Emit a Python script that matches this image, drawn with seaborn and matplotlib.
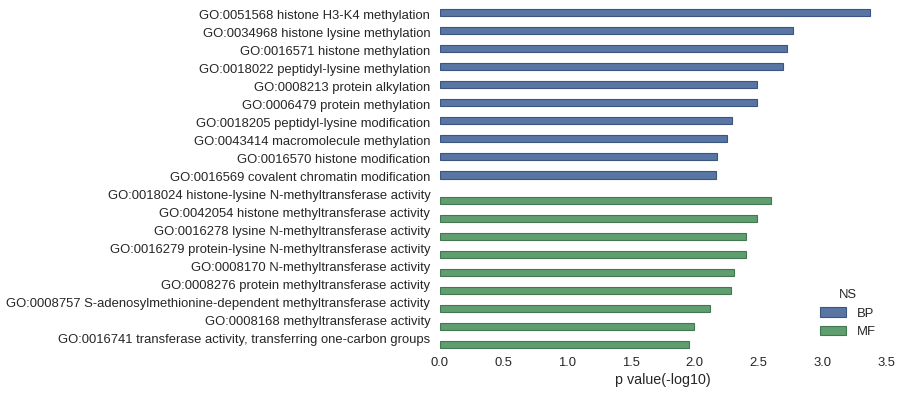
import matplotlib
matplotlib.use("Agg")
import matplotlib.pyplot as plt
from matplotlib.transforms import ScaledTranslation
import seaborn as sns
import pandas as pd

bp_terms = [
    "GO:0051568 histone H3-K4 methylation",
    "GO:0034968 histone lysine methylation",
    "GO:0016571 histone methylation",
    "GO:0018022 peptidyl-lysine methylation",
    "GO:0008213 protein alkylation",
    "GO:0006479 protein methylation",
    "GO:0018205 peptidyl-lysine modification",
    "GO:0043414 macromolecule methylation",
    "GO:0016570 histone modification",
    "GO:0016569 covalent chromatin modification",
]
bp_values = [3.375, 2.77, 2.72, 2.69, 2.49, 2.49, 2.29, 2.25, 2.17, 2.165]

mf_terms = [
    "GO:0018024 histone-lysine N-methyltransferase activity",
    "GO:0042054 histone methyltransferase activity",
    "GO:0016278 lysine N-methyltransferase activity",
    "GO:0016279 protein-lysine N-methyltransferase activity",
    "GO:0008170 N-methyltransferase activity",
    "GO:0008276 protein methyltransferase activity",
    "GO:0008757 S-adenosylmethionine-dependent methyltransferase activity",
    "GO:0008168 methyltransferase activity",
    "GO:0016741 transferase activity, transferring one-carbon groups",
]
mf_values = [2.60, 2.49, 2.40, 2.40, 2.305, 2.28, 2.12, 1.99, 1.955]

df = pd.DataFrame({
    "term": bp_terms + mf_terms,
    "value": bp_values + mf_values,
    "NS": ["BP"] * len(bp_terms) + ["MF"] * len(mf_terms),
})

sns.set_theme(style="white")
plt.rcParams["font.family"] = ["Liberation Sans", "DejaVu Sans"]
plt.rcParams["text.color"] = ".15"
plt.rcParams["axes.labelcolor"] = ".15"
plt.rcParams["xtick.color"] = ".15"
plt.rcParams["ytick.color"] = ".15"

fig = plt.figure(figsize=(9.03, 3.97), dpi=100)
ax = fig.add_axes([440/903, 1 - 350/397, 446/903, 343/397])

palette = {"BP": "#4C72B0", "MF": "#55A868"}
sns.barplot(data=df, y="term", x="value", hue="NS", order=df["term"].tolist(),
            hue_order=["BP", "MF"], palette=palette, dodge=True, width=0.8,
            saturation=0.75, ax=ax, orient="h")

edge_cols = ["#3b5580", "#437752"]
for cont, col in zip(ax.containers, edge_cols):
    for p in cont:
        p.set_edgecolor(col)
        p.set_linewidth(0.8)

ax.set_xlim(0, 3.5)
ax.set_ylim(18.5, -0.5)
ax.set_xticks([0, 0.5, 1.0, 1.5, 2.0, 2.5, 3.0, 3.5])
ax.set_xticklabels(["0.0", "0.5", "1.0", "1.5", "2.0", "2.5", "3.0", "3.5"])
ax.set_xlabel("p value(-log10)", fontsize=10.3, labelpad=3)
ax.set_ylabel("")
ax.tick_params(axis="x", labelsize=9.4, length=0, pad=5)
ax.tick_params(axis="y", labelsize=9.4, length=0, pad=7)
sns.despine(ax=ax, left=True, bottom=True)

shift = ScaledTranslation(0, 2 / 100, fig.dpi_scale_trans)
for lbl in ax.get_yticklabels():
    lbl.set_transform(lbl.get_transform() + shift)

leg = ax.legend(title="NS", loc="lower right", frameon=False, fontsize=9.4,
                title_fontsize=9.4, labelspacing=0.5,
                bbox_to_anchor=(1.003, 0.0))
for h, col in zip(leg.legend_handles, edge_cols):
    h.set_edgecolor(col)
    h.set_linewidth(0.8)

fig.savefig("out.png", dpi=100)
